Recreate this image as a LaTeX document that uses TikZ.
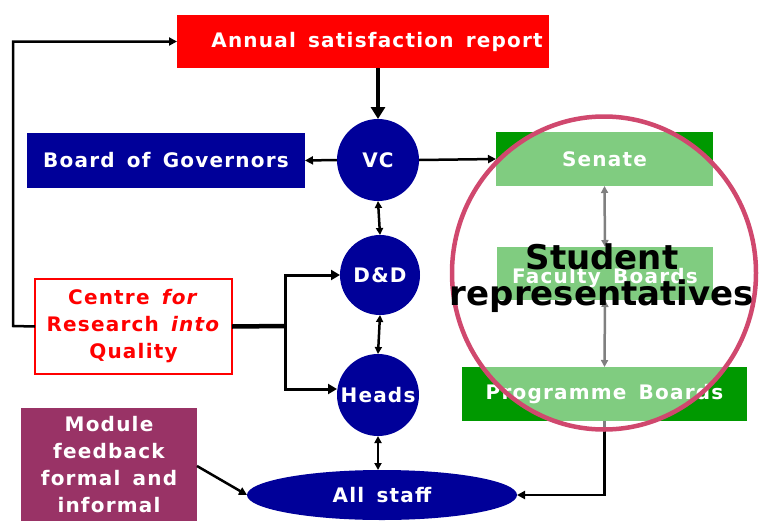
\documentclass[tikz,border=0pt]{standalone}
\usepackage{fontspec}
\setmainfont{DejaVu Sans}
\newfontfamily\lblfont{DejaVu Sans}[LetterSpace=6,WordSpace=1.5]
\usetikzlibrary{arrows.meta,shapes.geometric}
\definecolor{navyb}{RGB}{0,0,153}
\definecolor{greenb}{RGB}{0,153,0}
\definecolor{purpb}{RGB}{153,51,102}
\definecolor{pinkc}{RGB}{208,72,110}
\begin{document}
\begin{tikzpicture}[x=1pt,y=-1pt,
  lbl/.style={font=\lblfont\fontsize{20}{27}\selectfont\bfseries, text=white, inner sep=0pt},
  boxn/.style={rectangle, inner sep=0pt, outer sep=0pt},
  circn/.style={circle, fill=navyb, inner sep=0pt, outer sep=0pt, font=\lblfont\fontsize{20}{22}\selectfont\bfseries, text=white},
  conn/.style={line width=2.5pt, -{Triangle[length=8pt,width=8pt]}},
  dconn/.style={line width=2.5pt, {Triangle[length=7pt,width=7pt]}-{Triangle[length=7pt,width=7pt]}},
  thick4/.style={line width=4.5pt}
]
\useasboundingbox (0,0) rectangle (761,520);
\clip (0,0) rectangle (761,520);

% boxes
\node[boxn, fill=red, minimum width=372pt, minimum height=53pt] (ann) at (363,41.5) {};
\node[lbl] (anntext) at (377,42) {Annual satisfaction report};
\node[boxn, fill=navyb, minimum width=278pt, minimum height=55pt, lbl] (bog) at (166,160.5) {Board of Governors};
\node[boxn, fill=greenb, minimum width=217pt, minimum height=54pt, lbl] (senate) at (604.5,159) {Senate};
\node[boxn, fill=greenb, minimum width=216pt, minimum height=53pt] (fac) at (605,273.5) {};
\node[lbl] (factext) at (605,278) {Faculty Boards};
\node[boxn, fill=greenb, minimum width=285pt, minimum height=54pt, lbl] (prog) at (604.5,394) {Programme Boards};
\node[boxn, draw=red, line width=1.5pt, fill=white, minimum width=197pt, minimum height=95pt, lbl, text=red, align=center] (crq) at (133.5,326.5) {Centre \textit{for}\\Research \textit{into}\\Quality};
\node[boxn, fill=purpb, minimum width=176pt, minimum height=124pt] (mod) at (109,470) {};
\node[lbl, align=center] (modtext) at (109,465) {Module\\feedback\\formal and\\informal};

% circles
\node[circn, minimum size=82pt] (vc) at (378,160) {VC};
\node[circn, minimum size=80pt] (dd) at (380,275) {D\&D};
\node[circn, minimum size=82pt] (heads) at (378,395) {Heads};
\node[ellipse, fill=navyb, inner sep=0pt, outer sep=0pt, minimum width=270pt, minimum height=50pt, lbl] (staff) at (382,495) {All staff};

% connectors
\coordinate (loopc) at (13,326);
\draw[conn] (crq.west) -- (loopc) |- (ann.west);
\draw[thick4, -{Triangle[length=12pt,width=14pt]}] (ann.south -| vc.north) -- (vc.north);
\draw[conn] (vc.west) -- (bog.east);
\draw[conn] (vc.east) -- (senate.west);
\draw[dconn] (vc.south) -- (dd.north);
\draw[dconn] (dd.south) -- (heads.north);
\draw[dconn] (heads.south) -- (staff.north -| heads.south);
\coordinate (split) at (285,326);
\draw[thick4] (crq.east) -- (split);
\draw[line width=3pt, -{Triangle[length=9pt,width=10pt]}] ([yshift=-1.5pt]split) |- (dd.west);
\draw[line width=3pt, -{Triangle[length=9pt,width=10pt]}] ([yshift=1.5pt]split) |- ([yshift=6pt]heads.west);
\coordinate (modout) at (197,466);
\draw[conn] (modout) -- (staff.west);
\draw[conn] (prog.south) |- (staff.east);
\draw[dconn] (senate.south) -- (fac.north);
\draw[dconn] (fac.south) -- (prog.north);

% student representatives overlay
\node[ellipse, fill=white, fill opacity=0.5, draw=pinkc, draw opacity=1, line width=4.5pt, inner sep=0pt, minimum width=304pt, minimum height=313pt] (studc) at (604,273) {};
\node[font=\fontsize{34}{36}\selectfont\bfseries, text=black, align=center, inner sep=0pt] (stud) at (602,278) {Student\\representatives};
\end{tikzpicture}
\end{document}
